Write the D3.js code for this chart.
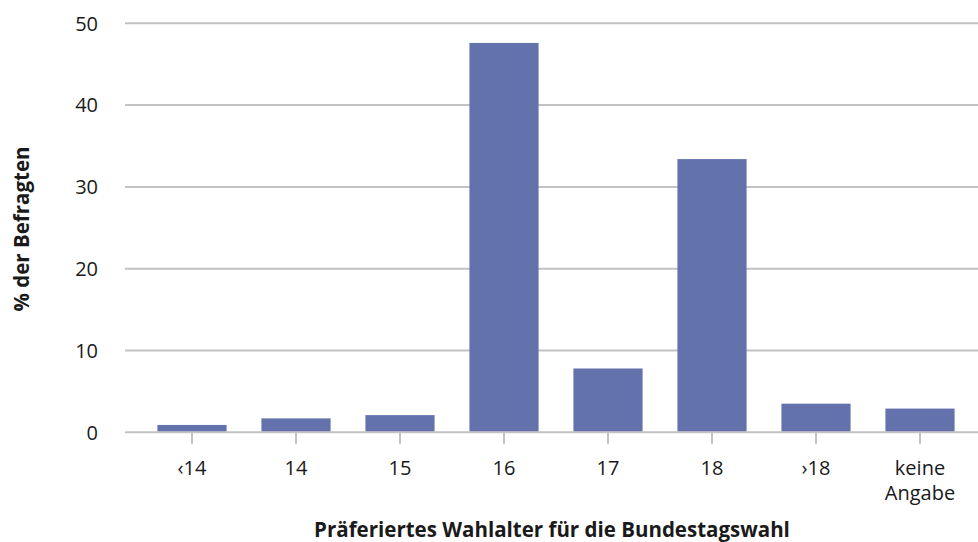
<!DOCTYPE html>
<html>
<head>
<meta charset="utf-8">
<script src="https://cdn.jsdelivr.net/npm/d3@7"></script>
<style>
  body { margin: 0; background: #fff; }
  text { font-family: "Open Sans", "Noto Sans", sans-serif; fill: #1a1a1a; }
</style>
</head>
<body>
<script>
const categories = ["‹14", "14", "15", "16", "17", "18", "›18", "keine Angabe"]
const values = [0.9, 1.7, 2.1, 47.6, 7.8, 33.4, 3.5, 2.9]
const yTicks = [0, 10, 20, 30, 40, 50]

const svgWidth = 978
const svgHeight = 542

const svg = d3.select("body").append("svg")
    .attr("width", svgWidth)
    .attr("height", svgHeight)

const y = d3.scaleLinear()
    .domain([0, 50])
    .range([432.3, 23.3])

const x = d3.scaleBand()
    .domain(categories)
    .range([140, 972])
    .paddingInner(0.335)
    .paddingOuter(0.1675)

// gridlines
svg.append("g")
  .selectAll("line")
  .data(yTicks)
  .enter()
  .append("line")
    .attr("x1", 125)
    .attr("x2", svgWidth)
    .attr("y1", d => y(d))
    .attr("y2", d => y(d))
    .attr("stroke", "#c2c2c2")
    .attr("stroke-width", 2)

// y labels
svg.append("g")
  .selectAll("text")
  .data(yTicks)
  .enter()
  .append("text")
    .attr("x", 98)
    .attr("y", d => y(d))
    .attr("dy", "0.36em")
    .attr("text-anchor", "end")
    .style("font-size", "20px")
    .text(d => d)

// bars
svg.append("g")
  .selectAll("rect")
  .data(values)
  .enter()
  .append("rect")
    .attr("x", (d, i) => x(categories[i]))
    .attr("y", d => y(d))
    .attr("width", x.bandwidth())
    .attr("height", d => y(0) - y(d) - 1)
    .attr("fill", "#6372ad")

// x ticks
svg.append("g")
  .selectAll("line")
  .data(categories)
  .enter()
  .append("line")
    .attr("x1", d => x(d) + x.bandwidth() / 2)
    .attr("x2", d => x(d) + x.bandwidth() / 2)
    .attr("y1", y(0))
    .attr("y2", y(0) + 12)
    .attr("stroke", "#c2c2c2")
    .attr("stroke-width", 2)

// x labels, split on spaces into lines
const xl = svg.append("g")
  .selectAll("text")
  .data(categories)
  .enter()
  .append("text")
    .attr("x", d => x(d) + x.bandwidth() / 2)
    .attr("y", 475)
    .attr("text-anchor", "middle")
    .style("font-size", "20px")

xl.each(function(d) {
  const t = d3.select(this)
  d.split(" ").forEach((p, i) => {
    t.append("tspan")
      .attr("x", x(d) + x.bandwidth() / 2)
      .attr("dy", i === 0 ? 0 : 25)
      .text(p)
  })
})

// axis titles
svg.append("text")
    .attr("x", 552)
    .attr("y", 537)
    .attr("text-anchor", "middle")
    .style("font-size", "20.5px")
    .style("font-weight", "bold")
    .text("Präferiertes Wahlalter für die Bundestagswahl")

svg.append("text")
    .attr("transform", "translate(29, 229) rotate(-90)")
    .attr("text-anchor", "middle")
    .style("font-size", "20.5px")
    .style("font-weight", "bold")
    .text("% der Befragten")
</script>
</body>
</html>
